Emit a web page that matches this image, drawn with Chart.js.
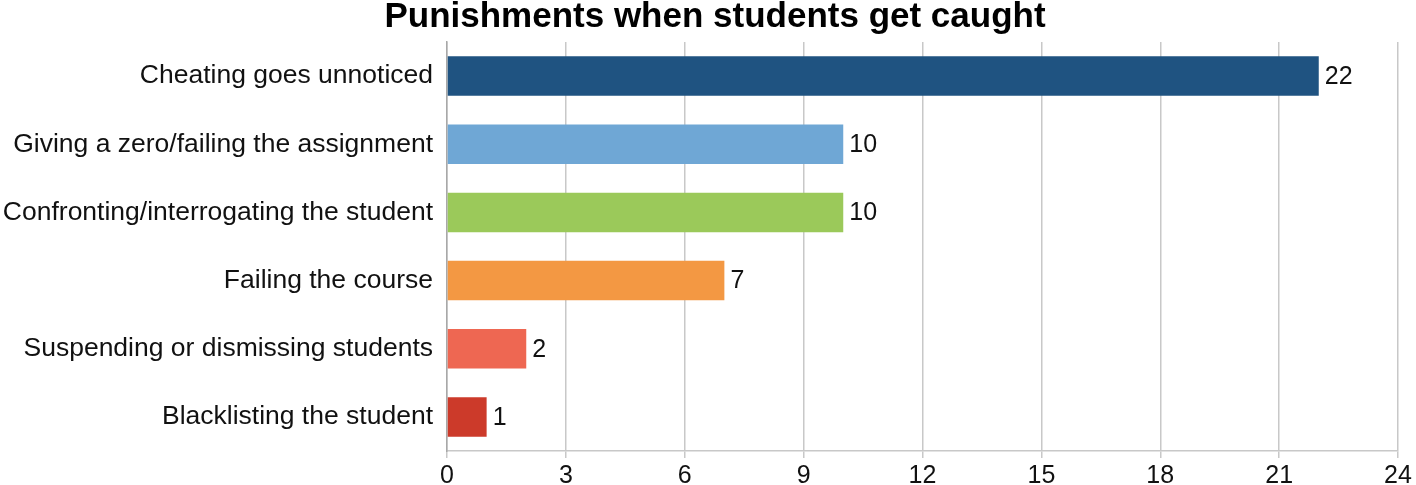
<!DOCTYPE html>
<html>
<head>
<meta charset="utf-8">
<script src="https://cdn.jsdelivr.net/npm/chart.js@4"></script>
<style>
  html, body { margin: 0; padding: 0; background: #fff; }
  #wrap { width: 1416px; height: 485px; position: relative; }
</style>
</head>
<body>
<div id="wrap"><canvas id="barChart"></canvas></div>
<script>
// data
const categories = [
    "Cheating goes unnoticed",
    "Giving a zero/failing the assignment",
    "Confronting/interrogating the student",
    "Failing the course",
    "Suspending or dismissing students",
    "Blacklisting the student"
];
const counts = [22, 10, 10, 7, 2, 1];
const barColors = ["#1f5381", "#6fa7d5", "#9bc95a", "#f39843", "#ee6752", "#cc3a2a"];
const xTicks = [0, 3, 6, 9, 12, 15, 18, 21, 24];
const chartTitle = "Punishments when students get caught";

const fontFamily = "'Liberation Sans', Arial, Helvetica, sans-serif";

// title drawn by hand so it can sit a bit right of the canvas centre like the original
const titlePlugin = {
    id: "titlePlugin",
    afterDraw(chart) {
        const ctx = chart.ctx;
        ctx.save();
        ctx.font = "bold 35px " + fontFamily;
        ctx.fillStyle = "#000";
        ctx.textAlign = "center";
        ctx.textBaseline = "alphabetic";
        ctx.fillText(chartTitle, 715, 27);
        ctx.restore();
    }
};

// writes the count just past the end of every bar
const valueLabels = {
    id: "valueLabels",
    afterDatasetsDraw(chart) {
        const ctx = chart.ctx;
        const meta = chart.getDatasetMeta(0);
        ctx.save();
        ctx.font = "25px " + fontFamily;
        ctx.fillStyle = "#111";
        ctx.textAlign = "left";
        ctx.textBaseline = "middle";
        meta.data.forEach((bar, i) => {
            ctx.fillText(String(counts[i]), bar.x + 6, bar.y + 1);
        });
        ctx.restore();
    }
};

const ctx = document.getElementById("barChart").getContext("2d");
const myChart = new Chart(ctx, {
    type: "bar",
    data: {
        labels: categories,
        datasets: [{
            data: counts,
            backgroundColor: barColors,
            borderWidth: 0,
            barPercentage: 0.58,
            categoryPercentage: 1.0
        }]
    },
    options: {
        indexAxis: "y",
        responsive: true,
        maintainAspectRatio: false,
        animation: false,
        layout: { padding: { left: 0, right: 18, top: 42, bottom: 0 } },
        plugins: {
            legend: { display: false },
            tooltip: { enabled: false },
            title: { display: false }
        },
        scales: {
            x: {
                min: 0,
                max: 24,
                afterBuildTicks: (scale) => {
                    scale.ticks = xTicks.map(v => ({ value: v }));
                },
                afterFit: (scale) => {
                    scale.height = 34;
                    scale.paddingRight = 18;
                },
                grid: {
                    color: "#c8c8c8",
                    lineWidth: 1.5,
                    drawTicks: true,
                    tickLength: 7
                },
                border: { display: true, color: "#c8c8c8", width: 1.5 },
                ticks: {
                    color: "#111",
                    padding: 6,
                    maxRotation: 0,
                    font: { family: fontFamily, size: 25, lineHeight: 1.0 }
                }
            },
            y: {
                afterFit: (scale) => { scale.width = 447; },
                grid: { display: false, drawTicks: false },
                border: { display: true, color: "#a8a8a8", width: 1.5 },
                ticks: {
                    color: "#111",
                    padding: 14,
                    font: { family: fontFamily, size: 26.5 }
                }
            }
        }
    },
    plugins: [valueLabels, titlePlugin]
});
</script>
</body>
</html>
